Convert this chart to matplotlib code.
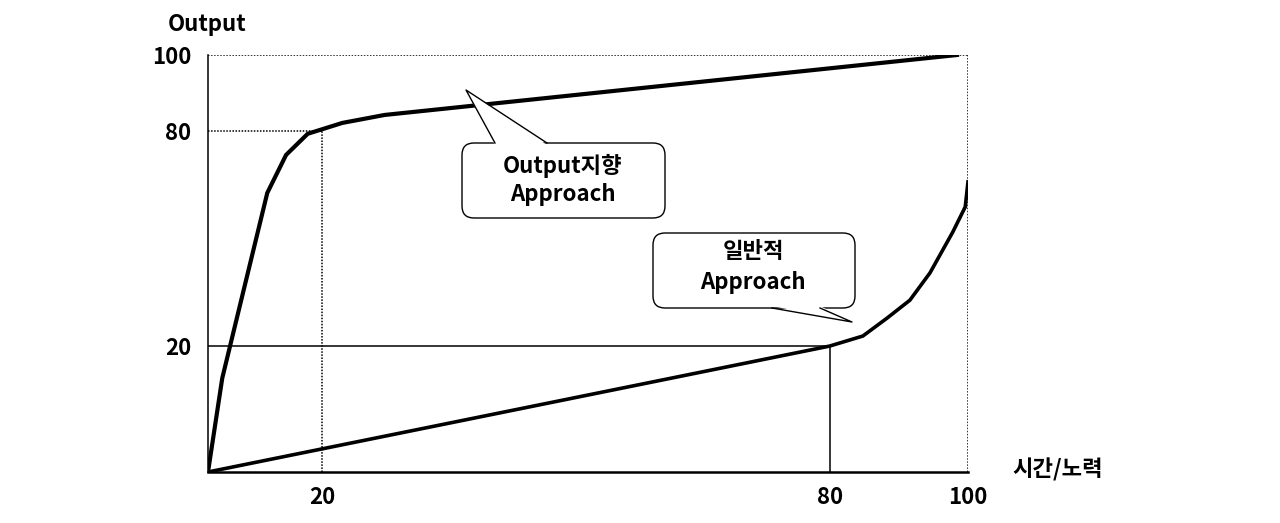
import numpy as np
import matplotlib.pyplot as plt
import matplotlib.transforms as mtransforms
from matplotlib.patches import FancyBboxPatch, Polygon

plt.rcParams['font.family'] = ['Noto Sans CJK KR', 'DejaVu Sans']
plt.rcParams['font.weight'] = 'bold'

# 축 눈금 (도식이라 간격이 균등하지 않음)
tick_vals = [0, 20, 80, 100]
x_pos = [0.0, 0.15, 0.818, 1.0]
y_pos = [0.0, 0.302, 0.818, 1.0]
x_ticks = [20, 80, 100]
y_ticks = [20, 80, 100]

# Output 지향 Approach 곡선
out_x = [0, 2.5, 10.4, 13.7, 17.5, 22.4, 27.4, 98.4]
out_y = [0, 14.9, 62.7, 73.3, 79.2, 82.1, 84.2, 100]

# 일반적 Approach 곡선
gen_x = [0, 80, 84.8, 88.3, 91.6, 94.5, 97.8, 99.6, 100]
gen_y = [0, 20, 22.8, 27.8, 32.8, 40.4, 51.8, 58.8, 65.8]

fig = plt.figure(figsize=(12.8, 5.23), dpi=100)
ax = fig.add_axes([208/1280, 1 - 472/523, 760/1280, 417/523])

ax.set_xscale('function', functions=(lambda v: np.interp(v, tick_vals, x_pos),
                                     lambda v: np.interp(v, x_pos, tick_vals)))
ax.set_yscale('function', functions=(lambda v: np.interp(v, tick_vals, y_pos),
                                     lambda v: np.interp(v, y_pos, tick_vals)))
ax.set_xlim(0, 100)
ax.set_ylim(0, 100)

# 보조선
ax.plot([0, 100], [100, 100], color='black', lw=1.1, ls=(0, (1, 1)))
ax.plot([100, 100], [0, 100], color='black', lw=1.1, ls=(0, (1, 1)))
ax.plot([0, 20], [80, 80], color='black', lw=1.1, ls=(0, (1, 1)))
ax.plot([20, 20], [0, 80], color='black', lw=1.1, ls=(0, (1, 1)))
ax.plot([0, 80], [20, 20], color='black', lw=1.1)
ax.plot([80, 80], [0, 20], color='black', lw=1.1)

ax.plot(out_x, out_y, color='black', lw=3.0, solid_joinstyle='miter', zorder=3)
ax.plot(gen_x, gen_y, color='black', lw=2.6, solid_joinstyle='miter', zorder=3)

for s in ['top', 'right']:
    ax.spines[s].set_visible(False)
ax.spines['left'].set_linewidth(1.1)
ax.spines['bottom'].set_linewidth(1.8)

ax.set_xticks(x_ticks)
ax.set_yticks(y_ticks)
ax.set_xticklabels([str(v) for v in x_ticks])
ax.set_yticklabels([str(v) for v in y_ticks])
ax.tick_params(axis='both', length=0, labelsize=16)
ax.tick_params(axis='x', pad=10)
ax.tick_params(axis='y', pad=12)

fig.text(207/1280, 1 - 24/523, 'Output', ha='center', va='center', fontsize=16, fontweight='bold')
fig.text(1058/1280, 1 - 470/523, '시간/노력', ha='center', va='center', fontsize=16, fontweight='bold')

# 말풍선 (픽셀 좌표)
pix = mtransforms.Affine2D().scale(1/100, -1/100).translate(0, 5.23) + fig.dpi_scale_trans


def callout(box, base, tip, lines, cx, ys):
    x0, y0, x1, y1 = box
    r = 12
    patch = FancyBboxPatch((x0 + r, y0 + r), x1 - x0 - 2*r, y1 - y0 - 2*r,
                           boxstyle=f'round,pad={r},rounding_size={r}',
                           transform=pix, facecolor='white', edgecolor='black',
                           lw=1.0, zorder=5)
    fig.add_artist(patch)
    (bx0, by0), (bx1, by1) = base
    inset = 2 if by0 == y0 else -2
    tri = Polygon([(bx0, by0 + inset), tip, (bx1, by1 + inset)], closed=True,
                  transform=pix, facecolor='white', edgecolor='none', zorder=6)
    fig.add_artist(tri)
    fig.add_artist(plt.Line2D([bx0, tip[0], bx1], [by0, tip[1], by1],
                              transform=pix, color='black', lw=1.0, zorder=7))
    for t, yy in zip(lines, ys):
        fig.text(cx, yy, t, transform=pix, ha='center', va='center',
                 fontsize=16, fontweight='bold', zorder=8)


callout((462, 143, 665, 218), [(495, 143), (547, 143)], (466, 90),
        ['Output지향', 'Approach'], 563, [166, 194])
callout((653, 233, 855, 308), [(772, 308), (820, 308)], (852, 322),
        ['일반적', 'Approach'], 753, [252, 282])

fig.savefig('out.png', dpi=100)
